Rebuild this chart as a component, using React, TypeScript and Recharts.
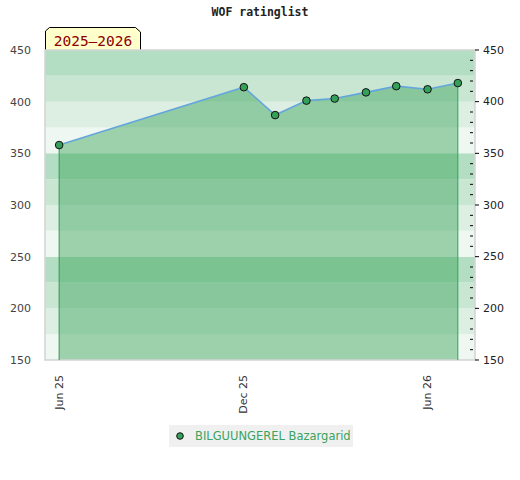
import React from "react";
import {
  ComposedChart,
  Area,
  Line,
  XAxis,
  YAxis,
  ReferenceArea,
  ReferenceLine,
} from "recharts";

// monthly rating list
const dates = [
  "2025-06-01",
  "2025-12-01",
  "2026-01-01",
  "2026-02-01",
  "2026-03-01",
  "2026-04-01",
  "2026-05-01",
  "2026-06-01",
  "2026-07-01",
];
const ratings = [358, 414, 387, 401, 403, 409, 415, 412, 418];
const xTickDates = ["2025-06-01", "2025-12-01", "2026-06-01"];
const xTickLabels = ["Jun 25", "Dec 25", "Jun 26"];
const yTicks = [150, 200, 250, 300, 350, 400, 450];
const playerName = "BILGUUNGEREL Bazargarid";
const seasonLabel = "2025\u20132026";
const title = "WOF ratinglist";

const DAY = 86400000;
const ts = (d: string) => Date.parse(d + "T00:00:00Z");

const data = dates.map((d, i) => ({ t: ts(d), rating: ratings[i] }));
const xTicks = xTickDates.map(ts);
const xDomain = [ts(dates[0]) - 14 * DAY, ts(dates[dates.length - 1]) + 17 * DAY];

const minorTicks: number[] = [];
for (let v = 150; v <= 450; v += 10) minorTicks.push(v);

// background bands, 4 shades per 100 points (darkest on top)
const bandColors = ["#eef7f1", "#ddeee3", "#c9e6d3", "#b3dec3"];
const bands: { y1: number; y2: number; fill: string }[] = [];
for (let v = 150; v < 450; v += 25) {
  bands.push({ y1: v, y2: v + 25, fill: bandColors[((v - 150) / 25) % 4] });
}

const first = data[0];
const last = data[data.length - 1];

function XTick(props: any) {
  const { x, y, payload } = props;
  const label = xTickLabels[xTicks.indexOf(payload.value)] ?? "";
  return (
    <text
      x={x}
      y={y + 7}
      transform={`rotate(-90 ${x} ${y + 7})`}
      textAnchor="end"
      dominantBaseline="central"
      fontSize={11}
      fill="#333"
      fontFamily="DejaVu Sans"
    >
      {label}
    </text>
  );
}

function RightTick(props: any) {
  const { x, y, payload } = props;
  const major = payload.value % 50 === 0;
  return (
    <g>
      {major ? (
        <>
          <line x1={x - 8} x2={x - 4} y1={y} y2={y} stroke="#000" />
          <text
            x={x}
            y={y}
            dominantBaseline="central"
            fontSize={11}
            fill="#222"
            fontFamily="DejaVu Sans"
          >
            {payload.value}
          </text>
        </>
      ) : (
        <line x1={x - 13} x2={x - 10} y1={y} y2={y} stroke="#000" />
      )}
    </g>
  );
}

export default function App() {
  return (
    <div
      style={{
        position: "absolute",
        left: 0,
        top: 0,
        width: 520,
        height: 480,
        background: "#fff",
        fontFamily: "DejaVu Sans",
      }}
    >
      <div
        style={{
          position: "absolute",
          top: 5,
          left: 0,
          width: 520,
          textAlign: "center",
          fontFamily: "DejaVu Sans Mono",
          fontWeight: "bold",
          fontSize: 11.5,
          color: "#222",
        }}
      >
        {title}
      </div>
      <svg
        width={100}
        height={26}
        style={{ position: "absolute", left: 44, top: 26 }}
      >
        <polygon
          points="1.5,25 1.5,5 5.5,1.5 91.5,1.5 96.5,6 96.5,25"
          fill="#ffffcc"
          stroke="#000"
          strokeWidth={1}
        />
        <text
          x={49}
          y={20}
          textAnchor="middle"
          fontFamily="DejaVu Sans Mono"
          fontSize={14.5}
          fill="#8b0000"
        >
          {seasonLabel}
        </text>
      </svg>
      <ComposedChart
        width={520}
        height={480}
        data={data}
        margin={{ top: 50, right: 0, bottom: 70, left: 5 }}
      >
        {bands.map((b) => (
          <ReferenceArea
            key={b.y1}
            yAxisId="left"
            y1={b.y1}
            y2={b.y2}
            fill={b.fill}
            fillOpacity={1}
            stroke="none"
          />
        ))}
        <XAxis
          dataKey="t"
          type="number"
          scale="time"
          domain={xDomain}
          ticks={xTicks}
          tick={<XTick />}
          tickLine={false}
          axisLine={false}
          height={50}
          interval={0}
        />
        <YAxis
          yAxisId="left"
          orientation="left"
          domain={[150, 450]}
          ticks={yTicks}
          width={40}
          tickLine={false}
          axisLine={false}
          tick={{ fontSize: 11, fill: "#444", fontFamily: "DejaVu Sans" }}
          tickMargin={8}
        />
        <YAxis
          yAxisId="right"
          orientation="right"
          type="number"
          domain={[150, 450]}
          allowDataOverflow
          ticks={minorTicks}
          width={45}
          tickLine={false}
          axisLine={false}
          interval={0}
          tick={<RightTick />}
        />
        <Area
          yAxisId="left"
          type="linear"
          dataKey="rating"
          baseValue={150}
          fill="#3aa459"
          fillOpacity={0.46}
          stroke="#64a6dc"
          strokeWidth={1.6}
          dot={false}
          activeDot={false}
          isAnimationActive={false}
        />
        <ReferenceLine
          yAxisId="left"
          segment={[
            { x: first.t, y: 150 },
            { x: first.t, y: first.rating - 3 },
          ]}
          stroke="#2e9a4f"
          strokeWidth={1}
        />
        <ReferenceLine
          yAxisId="left"
          segment={[
            { x: last.t, y: 150 },
            { x: last.t, y: last.rating - 3 },
          ]}
          stroke="#2ea84f"
          strokeWidth={1}
        />
        <Line
          yAxisId="right"
          type="linear"
          dataKey="rating"
          stroke="none"
          dot={{ r: 3.8, fill: "#34a05a", fillOpacity: 1, stroke: "#111", strokeWidth: 1 }}
          activeDot={false}
          legendType="none"
          isAnimationActive={false}
        />
        <ReferenceArea
          yAxisId="left"
          x1={xDomain[0]}
          x2={xDomain[1]}
          y1={150}
          y2={450}
          fill="none"
          stroke="#d4d4d4"
          strokeWidth={1.5}
        />
      </ComposedChart>
      <div
        style={{
          position: "absolute",
          left: 169,
          top: 425,
          width: 184,
          height: 22,
          background: "#f0f0f0",
          display: "flex",
          alignItems: "center",
          fontSize: 11.5,
          color: "#3aa35e",
          fontFamily: "DejaVu Sans",
        }}
      >
        <svg width={24} height={22}>
          <circle cx={11} cy={11} r={3.3} fill="#34a05a" stroke="#111" />
        </svg>
        <span style={{ marginLeft: 2 }}>{playerName}</span>
      </div>
    </div>
  );
}
